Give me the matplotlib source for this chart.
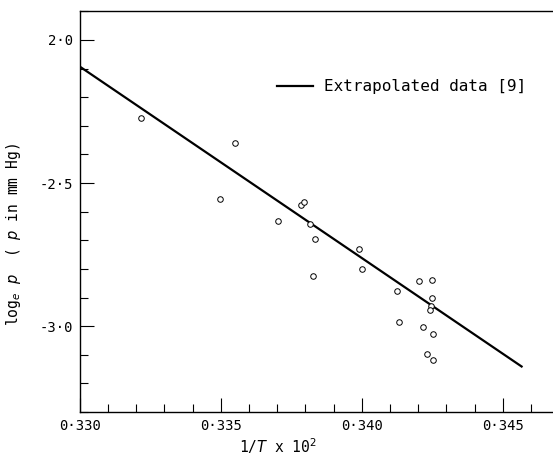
import matplotlib
matplotlib.use("Agg")
import matplotlib.pyplot as plt
from matplotlib.ticker import MultipleLocator, FixedLocator

# data
inv_T = [0.33217, 0.33551, 0.33498, 0.33784, 0.33795, 0.33702, 0.33817, 0.33835,
         0.33989, 0.34000, 0.33828, 0.34204, 0.34248, 0.34124, 0.34250, 0.34245,
         0.34242, 0.34132, 0.34218, 0.34252, 0.34233, 0.34254]
log_p = [-2.274, -2.359, -2.556, -2.577, -2.567, -2.634, -2.642, -2.696,
         -2.730, -2.800, -2.825, -2.843, -2.840, -2.876, -2.901, -2.930,
         -2.944, -2.984, -3.002, -3.027, -3.097, -3.119]
line_x = [0.330, 0.34567]
line_y = [-2.093, -3.141]
x_ticks = [0.330, 0.335, 0.340, 0.345]
x_tick_labels = ["0·330", "0·335", "0·340", "0·345"]
y_ticks = [-2.0, -2.5, -3.0]
y_tick_labels = ["2·0", "-2·5", "-3·0"]

W, H = 553, 457
fig = plt.figure(figsize=(W / 100, H / 100), dpi=100)
ax = fig.add_axes([79.7 / W, 1 - 412 / H, (W - 79.7) / W, (412 - 11) / H])

mono = "DejaVu Sans Mono"

ax.plot(line_x, line_y, color="black", lw=1.6, label="Extrapolated data [9]")
ax.plot(inv_T, log_p, linestyle="none", marker="o", markersize=4.0,
        markerfacecolor="white", markeredgecolor="black", markeredgewidth=0.7)

ax.set_xlim(0.330, 0.330 + (W - 79.7) / 28.2 * 0.001)
ax.set_ylim(-3.30, -1.899)

ax.xaxis.set_major_locator(FixedLocator(x_ticks))
ax.xaxis.set_minor_locator(MultipleLocator(0.001))
ax.yaxis.set_major_locator(FixedLocator(y_ticks))
ax.yaxis.set_minor_locator(MultipleLocator(0.1))
ax.set_xticklabels(x_tick_labels, fontfamily=mono, fontsize=10)
ax.set_yticklabels(y_tick_labels, fontfamily=mono, fontsize=10)
ax.tick_params(which="major", direction="in", length=10, width=0.8, pad=5)
ax.tick_params(which="minor", direction="in", length=6, width=0.8)

ax.spines["right"].set_visible(False)
for s in ("left", "bottom", "top"):
    ax.spines[s].set_linewidth(1.0)

leg = ax.legend(loc="upper left", bbox_to_anchor=((263 - 79.7) / (W - 79.7), (412 - 65) / 401),
                frameon=False, handlelength=2.2, handletextpad=0.75,
                prop={"family": mono, "size": 11.5})

fig.text(278 / W, 1 - 446 / H, r"1/$\it{T}$ x 10$^2$", ha="center", va="center",
         fontfamily=mono, fontsize=10.5)
fig.text(14 / W, 1 - 235 / H, r"log$_e$ $\it{p}$  ( $\it{p}$ in mm Hg)", ha="center",
         va="center", rotation=90, fontfamily=mono, fontsize=10.5)

fig.savefig("out.png", dpi=100)
